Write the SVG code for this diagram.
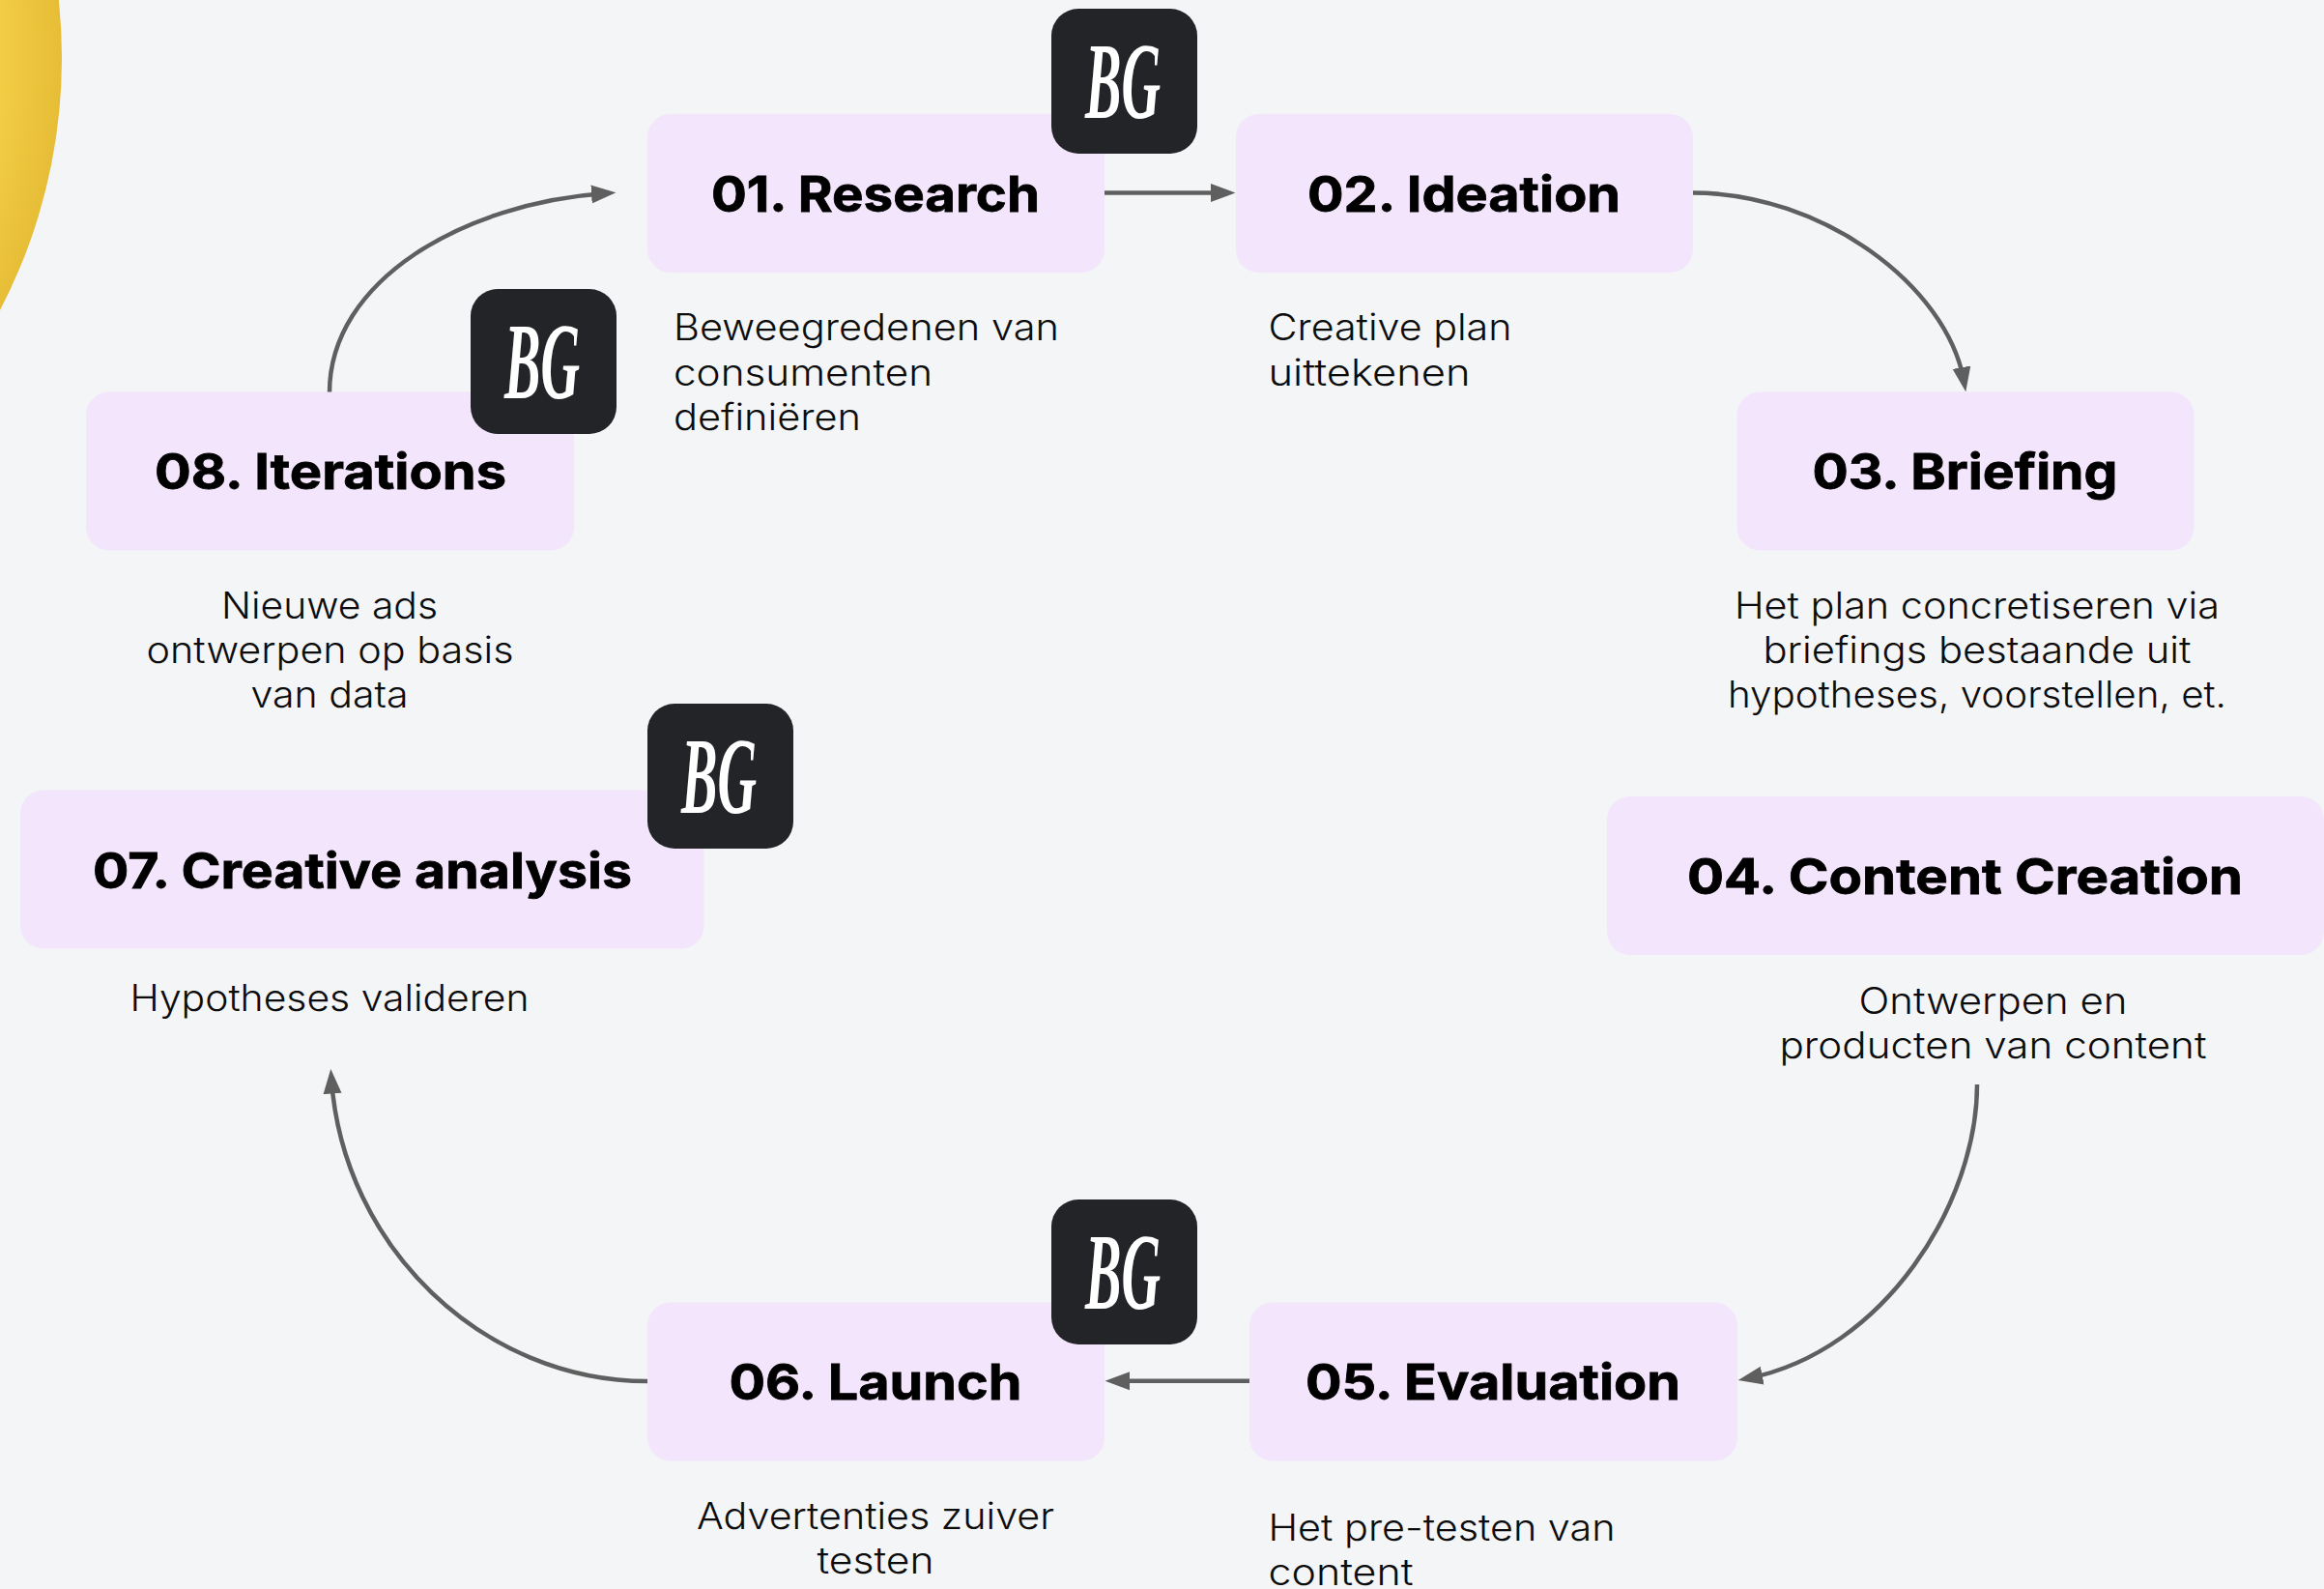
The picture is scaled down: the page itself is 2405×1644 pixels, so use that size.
<svg xmlns="http://www.w3.org/2000/svg" width="2405" height="1644" viewBox="0 0 2405 1644">
<style>
.box{fill:#f3e5fb}
.badge{fill:#232428}
.logo{font-family:"Liberation Serif",serif;font-size:112px;font-weight:700;font-style:italic;fill:#fff}
.t{font-family:Inter,"Noto Sans",sans-serif;font-size:51px;font-weight:700;fill:#000;stroke:#000;stroke-width:.8px}
.d{font-family:Inter,"Noto Sans",sans-serif;font-size:38px;font-weight:300;fill:#0c0c0c}
.m{text-anchor:middle}
.c{fill:none;stroke:#5f5f5f;stroke-width:4.500}
</style>
<defs>
<radialGradient id="sun" gradientUnits="userSpaceOnUse" cx="-500" cy="60" r="564"><stop offset="0.887" stop-color="#f2ce45"/><stop offset="1" stop-color="#e7bd36"/></radialGradient>
<marker id="arrow" markerUnits="userSpaceOnUse" markerWidth="27" markerHeight="22" refX="15" refY="11" orient="auto"><path d="M0 1.500 L25.500 11 L0 20.500 Z" fill="#5f5f5f"/></marker>
</defs>
<rect width="2405" height="1644" fill="#f3f5f7"/>
<circle cx="-500" cy="60" r="564" fill="url(#sun)"/>
<g id="connectors">
<path class="c" marker-end="url(#arrow)" d="M341 406 C341 290 480 210 627 200"/>
<path class="c" marker-end="url(#arrow)" d="M1143 199.500 L1268 199.500"/>
<path class="c" marker-end="url(#arrow)" d="M1752 199.500 C1885 199.500 2015 295 2032.500 395"/>
<path class="c" marker-end="url(#arrow)" d="M2046 1122 C2046 1245 1950 1398 1809 1426"/>
<path class="c" marker-end="url(#arrow)" d="M1293 1428.700 L1154 1428.700"/>
<path class="c" marker-end="url(#arrow)" d="M670 1429 C500 1429 355 1290 343 1116.500"/>
</g>
<g id="node-01">
<rect class="box" x="670" y="118" width="473" height="164" rx="24"/>
<text class="t m" x="906" y="218.500" textLength="340" lengthAdjust="spacingAndGlyphs">01. Research</text>
<text class="d" x="697" y="352" textLength="399" lengthAdjust="spacingAndGlyphs">Beweegredenen van</text>
<text class="d" x="697" y="399" textLength="268" lengthAdjust="spacingAndGlyphs">consumenten</text>
<text class="d" x="697" y="445" textLength="194" lengthAdjust="spacingAndGlyphs">definiëren</text>
<rect class="badge" x="1088" y="9" width="151" height="150" rx="28"/>
<text class="logo m" x="1162" y="122" textLength="78" lengthAdjust="spacingAndGlyphs">BG</text>
</g>
<g id="node-02">
<rect class="box" x="1279" y="118" width="473" height="164" rx="24"/>
<text class="t m" x="1515" y="218.500" textLength="324" lengthAdjust="spacingAndGlyphs">02. Ideation</text>
<text class="d" x="1312.500" y="352" textLength="252" lengthAdjust="spacingAndGlyphs">Creative plan</text>
<text class="d" x="1312.500" y="399" textLength="209" lengthAdjust="spacingAndGlyphs">uittekenen</text>
</g>
<g id="node-03">
<rect class="box" x="1797.500" y="405.500" width="473" height="164" rx="24"/>
<text class="t m" x="2033.500" y="506" textLength="316" lengthAdjust="spacingAndGlyphs">03. Briefing</text>
<text class="d m" x="2046" y="640" textLength="502" lengthAdjust="spacingAndGlyphs">Het plan concretiseren via</text>
<text class="d m" x="2046" y="686" textLength="443" lengthAdjust="spacingAndGlyphs">briefings bestaande uit</text>
<text class="d m" x="2046" y="732" textLength="516" lengthAdjust="spacingAndGlyphs">hypotheses, voorstellen, et.</text>
</g>
<g id="node-04">
<rect class="box" x="1663" y="824" width="742" height="164" rx="24"/>
<text class="t m" x="2033.500" y="924.500" textLength="575" lengthAdjust="spacingAndGlyphs">04. Content Creation</text>
<text class="d m" x="2062.500" y="1049" textLength="278" lengthAdjust="spacingAndGlyphs">Ontwerpen en</text>
<text class="d m" x="2062.500" y="1095" textLength="442" lengthAdjust="spacingAndGlyphs">producten van content</text>
</g>
<g id="node-05">
<rect class="box" x="1293" y="1347.500" width="505" height="164" rx="24"/>
<text class="t m" x="1545" y="1448" textLength="388" lengthAdjust="spacingAndGlyphs">05. Evaluation</text>
<text class="d" x="1312.500" y="1594" textLength="359" lengthAdjust="spacingAndGlyphs">Het pre-testen van</text>
<text class="d" x="1312.500" y="1639.500" textLength="150" lengthAdjust="spacingAndGlyphs">content</text>
</g>
<g id="node-06">
<rect class="box" x="670" y="1347.500" width="473" height="164" rx="24"/>
<text class="t m" x="906" y="1448" textLength="303" lengthAdjust="spacingAndGlyphs">06. Launch</text>
<text class="d m" x="906" y="1582" textLength="370" lengthAdjust="spacingAndGlyphs">Advertenties zuiver</text>
<text class="d m" x="906" y="1628" textLength="121" lengthAdjust="spacingAndGlyphs">testen</text>
<rect class="badge" x="1088" y="1241" width="151" height="150" rx="28"/>
<text class="logo m" x="1162" y="1354" textLength="78" lengthAdjust="spacingAndGlyphs">BG</text>
</g>
<g id="node-07">
<rect class="box" x="21" y="817.500" width="707.500" height="164" rx="24"/>
<text class="t m" x="375" y="918.500" textLength="558" lengthAdjust="spacingAndGlyphs">07. Creative analysis</text>
<text class="d m" x="341" y="1046" textLength="413" lengthAdjust="spacingAndGlyphs">Hypotheses valideren</text>
<rect class="badge" x="670" y="728" width="151" height="150" rx="28"/>
<text class="logo m" x="744" y="841" textLength="78" lengthAdjust="spacingAndGlyphs">BG</text>
</g>
<g id="node-08">
<rect class="box" x="89" y="405.500" width="505" height="164" rx="24"/>
<text class="t m" x="342" y="506" textLength="364" lengthAdjust="spacingAndGlyphs">08. Iterations</text>
<text class="d m" x="341" y="640" textLength="224" lengthAdjust="spacingAndGlyphs">Nieuwe ads</text>
<text class="d m" x="341.500" y="686" textLength="380" lengthAdjust="spacingAndGlyphs">ontwerpen op basis</text>
<text class="d m" x="341" y="732" textLength="163" lengthAdjust="spacingAndGlyphs">van data</text>
<rect class="badge" x="487" y="299" width="151" height="150" rx="28"/>
<text class="logo m" x="561" y="412" textLength="78" lengthAdjust="spacingAndGlyphs">BG</text>
</g>
</svg>
